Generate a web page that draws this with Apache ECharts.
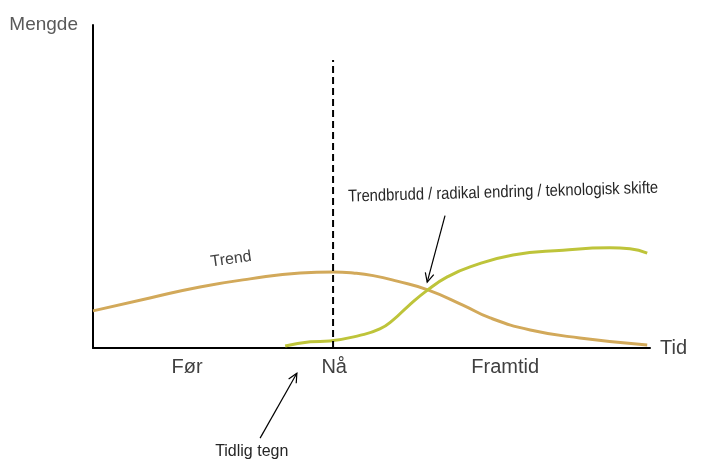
<!DOCTYPE html>
<html>
<head>
<meta charset="utf-8">
<script src="https://cdn.jsdelivr.net/npm/echarts@6/dist/echarts.min.js"></script>
<style>html,body{margin:0;padding:0;background:#fff;}#c{width:713px;height:459px;}</style>
</head>
<body>
<div id="c"></div>
<script>
// Trend curve (time, amount)
var trendX = [0, 10.2, 19.2, 28.2, 37.2, 43.1, 46.7, 50.3, 54.6, 60.1, 66.4, 71.3, 78.5, 87.4, 99.5];
var trendY = [11.5, 15.5, 18.9, 21.4, 23.2, 23.5, 23.2, 22.4, 20.7, 18.0, 13.3, 9.3, 5.6, 3.1, 0.9];
// Trend break / technology shift curve
var shiftX = [34.5, 39.0, 42.5, 47.9, 51.5, 53.9, 56.6, 60.1, 63.6, 67.7, 75.4, 84.4, 92.8, 96.4, 99.5];
var shiftY = [0.6, 1.9, 2.2, 3.9, 5.9, 8.7, 13.0, 18.0, 22.0, 25.1, 28.8, 30.3, 31.0, 30.7, 29.4];
// "Now" marker
var nowX = 43.1;
var nowTop = 89.2;
// Period labels on the time axis
var periodLabels = ['Før', 'Nå', 'Framtid'];
var periodX = [16.9, 43.3, 74.0];

function zip(a, b) { return a.map(function (v, i) { return [v, b[i]]; }); }

var chart = echarts.init(document.getElementById('c'));
var font = 'Liberation Sans, Arial, sans-serif';
chart.setOption({
  animation: false,
  grid: { left: 93, right: 63, top: 25, bottom: 111 },
  xAxis: {
    type: 'value', min: 0, max: 100,
    name: 'Tid', nameLocation: 'end', nameGap: 10,
    nameTextStyle: { color: '#404040', fontSize: 20, fontFamily: font },
    axisLine: { lineStyle: { color: '#000', width: 2 } },
    axisTick: { show: false }, axisLabel: { show: false }, splitLine: { show: false }
  },
  yAxis: {
    type: 'value', min: 0, max: 100,
    name: 'Mengde', nameLocation: 'end', nameGap: 0,
    nameTextStyle: { color: '#595959', fontSize: 19, fontFamily: font, align: 'right', verticalAlign: 'middle', padding: [6, 15, 0, 0] },
    axisLine: { show: true, lineStyle: { color: '#000', width: 2 } },
    axisTick: { show: false }, axisLabel: { show: false }, splitLine: { show: false }
  },
  series: [
    {
      type: 'line', data: zip(trendX, trendY), smooth: 0.5, symbol: 'none',
      lineStyle: { color: '#D2A95A', width: 3 }, z: 3
    },
    {
      type: 'line', data: zip(shiftX, shiftY), smooth: 0.5, symbol: 'none',
      lineStyle: { color: '#BEC43A', width: 3 }, z: 4
    },
    {
      type: 'line', data: [[nowX, 0], [nowX, nowTop]], symbol: 'none',
      lineStyle: { color: '#000', width: 2, type: [7, 4] }, z: 5
    }
  ]
});

function px(x, y) { return chart.convertToPixel({ gridIndex: 0 }, [x, y]); }

var g = [];
periodLabels.forEach(function (t, i) {
  var p = px(periodX[i], 0);
  g.push({ type: 'text', x: p[0], y: p[1] + 19, style: { text: t, fill: '#404040', font: '20px ' + font, textAlign: 'center', textVerticalAlign: 'middle' } });
});
var pt = px(24.8, 27.5);
g.push({ type: 'text', x: pt[0], y: pt[1], rotation: 8 * Math.PI / 180, style: { text: 'Trend', fill: '#404040', font: '16px ' + font, textAlign: 'center', textVerticalAlign: 'middle' } });
var pb = px(45.8, 46.8);
g.push({ type: 'text', x: pb[0], y: pb[1], scaleX: 0.87, rotation: 1.6 * Math.PI / 180, style: { text: 'Trendbrudd / radikal endring / teknologisk skifte', fill: '#262626', font: '17px ' + font, textAlign: 'left', textVerticalAlign: 'middle' } });
var pe = px(28.5, -32);
g.push({ type: 'text', x: pe[0], y: pe[1], style: { text: 'Tidlig tegn', fill: '#262626', font: '16px ' + font, textAlign: 'center', textVerticalAlign: 'middle' } });

function arrow(x1, y1, x2, y2) {
  var a = px(x1, y1), b = px(x2, y2);
  var ang = Math.atan2(b[1] - a[1], b[0] - a[0]);
  var L = 10, w = 0.45;
  g.push({ type: 'line', shape: { x1: a[0], y1: a[1], x2: b[0], y2: b[1] }, style: { stroke: '#000', lineWidth: 1.2 } });
  g.push({ type: 'polyline', shape: { points: [
    [b[0] - L * Math.cos(ang - w), b[1] - L * Math.sin(ang - w)],
    [b[0], b[1]],
    [b[0] - L * Math.cos(ang + w), b[1] - L * Math.sin(ang + w)]
  ] }, style: { stroke: '#000', lineWidth: 1.2, fill: null } });
}
arrow(63.2, 41.0, 60.0, 20.4);
arrow(30.0, -27.9, 36.6, -7.8);

chart.setOption({ graphic: g });
</script>
</body>
</html>
